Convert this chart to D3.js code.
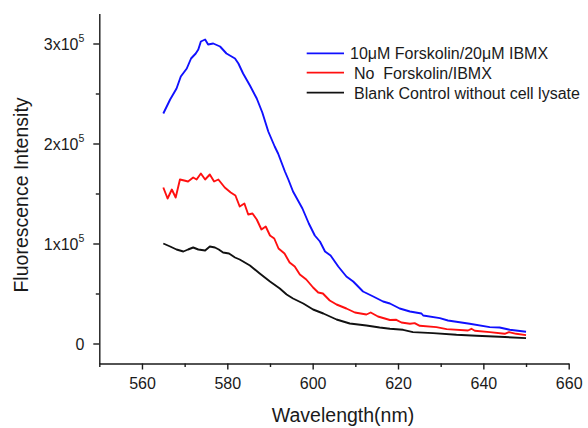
<!DOCTYPE html>
<html><head><meta charset="utf-8">
<script src="https://cdn.jsdelivr.net/npm/d3@7"></script>
<style>body{margin:0;background:#fff}svg{display:block;font-family:"Liberation Sans",Arial,sans-serif}</style>
</head><body><svg width="588" height="428"></svg>
<script>
const seriesNames = ["10\u03bcM Forskolin/20\u03bcM IBMX", "No  Forskolin/IBMX", "Blank Control without cell lysate"];
const seriesColors = ["#1010ff", "#ff1010", "#111111"];
const xTicks = [560, 580, 600, 620, 640, 660];
const xMinorTicks = [550, 570, 590, 610, 630, 650];
const yTicks = [0, 100000, 200000, 300000];
const yTickLabels = ["0", "1x10|5", "2x10|5", "3x10|5"];
const yMinorTicks = [50000, 150000, 250000];

const blueData = [[565,230000],[566.6,244000],[568.1,255000],[569.1,267000],[570.5,275000],[571.5,285000],[572.6,290000],[573.2,294000],[573.8,302000],[574.8,304000],[575.5,299000],[576.7,300000],[578.3,297000],[579.8,290000],[581.8,285000],[582.6,280000],[583.7,270000],[585.3,258000],[586.9,245000],[588.2,231000],[589.6,212000],[591.1,197000],[591.9,190000],[593.5,172000],[594.3,164000],[595.4,152000],[597.6,135000],[599.1,120000],[600.5,108000],[601.7,102000],[602.9,92000],[604.2,88000],[606,77000],[607.9,67000],[609.5,62000],[611.8,52000],[614.2,47000],[616.5,42000],[618.1,40000],[620.4,35000],[622.8,32000],[625.5,30000],[625.9,28000],[629.8,25400],[631.7,23000],[636.8,19700],[641.5,16400],[643.8,16000],[646.2,13700],[650,11700]];
const redData = [[565,156000],[566,145000],[567,154000],[567.9,146000],[568.9,164000],[569.9,163000],[570.8,162000],[572,166000],[572.8,164000],[573.8,170000],[574.8,164000],[575.9,169000],[576.9,162000],[577.9,164000],[579.4,156000],[580.8,151000],[581.9,148000],[582.9,137000],[584,140000],[584.9,129000],[585.9,130000],[586.9,124000],[588,114000],[589,117000],[590,108000],[591,105000],[592,95000],[593.4,90000],[594.6,81000],[595.8,77000],[597,69000],[598.5,64000],[600.1,56000],[601.3,51000],[602.4,50000],[604,43000],[605.6,39000],[607.9,35000],[609.9,31000],[612.6,29000],[613.6,31000],[615.3,27000],[616.9,25000],[618.1,23500],[619.6,23700],[620.8,21000],[622.8,19700],[623.9,20400],[625.1,17700],[629,16400],[631.4,14400],[636.4,13000],[637.2,14700],[638,12700],[641.5,11400],[645,9700],[646,11400],[647.7,9700],[650,8400]];
const blackData = [[565,100000],[566.6,97000],[568.1,94000],[569.7,92000],[570.8,94000],[572,96000],[573.2,94000],[574.8,93000],[575.9,97000],[577.1,96000],[578,94000],[579,91000],[580.4,90000],[581.8,86000],[582.9,84000],[585.3,78000],[587.6,70000],[590,62000],[592.3,55000],[593.9,49000],[595.4,45000],[597.8,40000],[600.1,34000],[602.5,30000],[605.6,24000],[608.7,20000],[612.6,18000],[615.7,16000],[618.1,14700],[621.2,13700],[623.5,11400],[628.2,10400],[633.7,8700],[638.4,7700],[643.8,6700],[650,5400]];
const allSeries = [blueData, redData, blackData];

const svg = d3.select("svg");
const x = d3.scaleLinear().domain([550, 660]).range([99.3, 568.7]);
const y = d3.scaleLinear().domain([-20000, 330000]).range([363.5, 13.5]);
const ink = "#1a1a1a";

// minor ticks
svg.append("g").attr("transform", "translate(0,363.5)")
  .call(d3.axisBottom(x).tickValues(xMinorTicks).tickSize(3.5).tickSizeOuter(0).tickFormat(""))
  .call(g => g.select(".domain").remove());
svg.append("g").attr("transform", "translate(99.3,0)")
  .call(d3.axisLeft(y).tickValues(yMinorTicks).tickSize(3.5).tickSizeOuter(0).tickFormat(""))
  .call(g => g.select(".domain").remove());

const xAxis = svg.append("g").attr("transform", "translate(0,363.5)")
  .call(d3.axisBottom(x).tickValues(xTicks).tickSize(6).tickSizeOuter(0).tickPadding(8));
xAxis.selectAll("text").attr("font-size", 16).attr("font-family", "Liberation Sans, Arial, sans-serif").attr("fill", ink);

const yAxis = svg.append("g").attr("transform", "translate(99.3,0)")
  .call(d3.axisLeft(y).tickValues(yTicks).tickSize(6).tickSizeOuter(0).tickPadding(9).tickFormat(""));
yAxis.selectAll(".tick").each(function(d, i) {
  const parts = yTickLabels[i].split("|");
  const t = d3.select(this).select("text")
    .attr("font-size", 16).attr("font-family", "Liberation Sans, Arial, sans-serif").attr("fill", ink)
    .attr("dy", "0.36em");
  t.append("tspan").text(parts[0]);
  if (parts[1]) t.append("tspan").attr("font-size", 10.5).attr("dy", "-0.75em").text(parts[1]);
});
svg.selectAll(".domain, .tick line").attr("stroke", ink).attr("stroke-width", 1.4);

// lines
const line = d3.line().x(d => x(d[0])).y(d => y(d[1]));
allSeries.forEach((data, i) => {
  svg.append("path").datum(data).attr("d", line)
    .attr("fill", "none").attr("stroke", seriesColors[i]).attr("stroke-width", 1.9)
    .attr("stroke-linejoin", "round");
});

// legend
const legendY = [53.3, 72.7, 92.7];
const legendTextX = [350, 354, 354];
seriesNames.forEach((name, i) => {
  svg.append("line").attr("x1", 306.7).attr("x2", 344).attr("y1", legendY[i]).attr("y2", legendY[i])
    .attr("stroke", seriesColors[i]).attr("stroke-width", 1.8);
  svg.append("text").attr("x", legendTextX[i]).attr("y", legendY[i] + 5.8)
    .attr("font-size", 16).attr("fill", ink).style("white-space", "pre").text(name);
});

// axis titles
svg.append("text").attr("x", 343).attr("y", 421.7).attr("text-anchor", "middle")
  .attr("font-size", 19.5).attr("fill", ink).text("Wavelength(nm)");
svg.append("text").attr("transform", "translate(27.5,195) rotate(-90)").attr("text-anchor", "middle")
  .attr("font-size", 19.5).attr("fill", ink).text("Fluorescence Intensity");
</script></body></html>
